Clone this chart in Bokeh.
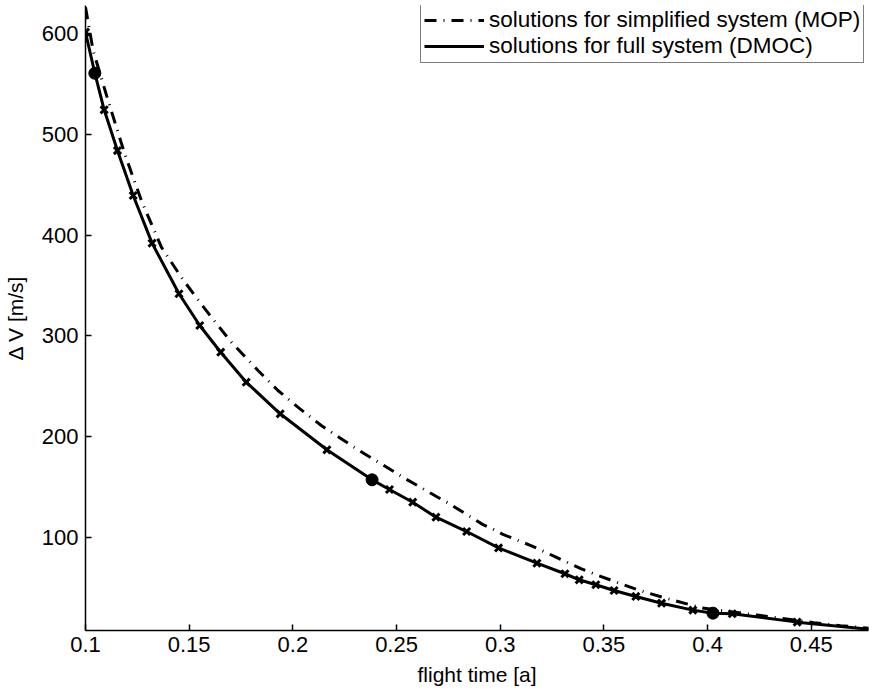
from bokeh.plotting import figure
from bokeh.models import FixedTicker, Range1d, Legend, LegendItem
from bokeh.embed import file_html
from bokeh.resources import INLINE

# DMOC solution points (x markers)
dmoc_time = [0.1000, 0.1090, 0.1154, 0.1230, 0.1321, 0.1451, 0.1551, 0.1652, 0.1775,
             0.1939, 0.2164, 0.2466, 0.2578, 0.2690, 0.2838, 0.2992, 0.3177, 0.3312,
             0.3381, 0.3461, 0.3549, 0.3654, 0.3778, 0.3929, 0.4119, 0.4432]
dmoc_dv = [601.3, 524.3, 483.9, 439.3, 392.0, 341.8, 310.3, 283.8, 254.1,
           222.7, 187.0, 147.6, 135.0, 120.1, 105.9, 89.6, 74.5, 64.0,
           58.0, 53.1, 47.4, 41.5, 34.8, 27.9, 24.3, 16.0]

# highlighted solutions (filled circles)
sel_time = [0.1045, 0.2382, 0.4026]
sel_dv = [560.6, 157.2, 24.9]

# DMOC curve end point
dmoc_end_time = [0.478]
dmoc_end_dv = [9.0]

# MOP curve (simplified system)
mop_time = [0.1000, 0.1037, 0.1109, 0.1189, 0.1270, 0.1366, 0.1462, 0.1527, 0.1607,
            0.1703, 0.1832, 0.1928, 0.2024, 0.2137, 0.2233, 0.2345, 0.2426, 0.2530,
            0.2642, 0.2755, 0.2915, 0.2979, 0.3013, 0.3148, 0.3269, 0.3389, 0.3477,
            0.3582, 0.3694, 0.3838, 0.3975, 0.4240, 0.4512, 0.4641, 0.4780]
mop_dv = [626.0, 583.0, 533.5, 480.7, 434.0, 388.0, 358.2, 340.0, 318.6,
          293.8, 265.7, 245.8, 229.3, 211.1, 197.9, 183.0, 173.1, 159.8,
          146.6, 133.4, 113.0, 107.0, 103.0, 92.0, 80.5, 69.0, 62.0,
          54.0, 46.0, 37.5, 30.0, 23.0, 15.5, 12.5, 10.0]

x_ticks = [0.1, 0.15, 0.2, 0.25, 0.3, 0.35, 0.4, 0.45]
x_tick_labels = ["0.1", "0.15", "0.2", "0.25", "0.3", "0.35", "0.4", "0.45"]
y_ticks = [100, 200, 300, 400, 500, 600]

mop_label = "solutions for simplified system (MOP)"
dmoc_label = "solutions for full system (DMOC)"

FONT = "Liberation Sans"

p = figure(width=869, height=689, output_backend="svg", toolbar_location=None,
           x_range=Range1d(0.1, 0.4776), y_range=Range1d(7.7, 627.8),
           min_border_left=84, min_border_right=1, min_border_top=5,
           min_border_bottom=59, x_axis_label="flight time [a]",
           y_axis_label="\u0394 V [m/s]")
p.outline_line_color = None
p.xgrid.visible = False
p.ygrid.visible = False
p.background_fill_color = "white"
p.border_fill_color = "white"

# combine curve data
curve = sorted(list(zip(dmoc_time, dmoc_dv)) + list(zip(sel_time, sel_dv)) +
               list(zip(dmoc_end_time, dmoc_end_dv)))
curve_t = [c[0] for c in curve]
curve_v = [c[1] for c in curve]

r_mop = p.line(mop_time, mop_dv, line_color="black", line_width=3,
               line_dash="12 7 1 7")
r_dmoc = p.line(curve_t, curve_v, line_color="black", line_width=3)
p.scatter(dmoc_time, dmoc_dv, marker="x", size=10, line_color="black", line_width=3)
p.scatter(sel_time, sel_dv, marker="circle", size=12, fill_color="black", line_color="black")

p.xaxis.ticker = FixedTicker(ticks=x_ticks)
p.xaxis.major_label_overrides = {t: l for t, l in zip(x_ticks, x_tick_labels)}
p.yaxis.ticker = FixedTicker(ticks=y_ticks)

for ax in (p.xaxis, p.yaxis):
    ax.axis_line_color = "black"
    ax.axis_line_width = 1.5
    ax.major_tick_line_color = "black"
    ax.major_tick_line_width = 1.5
    ax.major_tick_in = 6
    ax.major_tick_out = 0
    ax.minor_tick_line_color = None
    ax.major_label_text_font = FONT
    ax.major_label_text_font_size = "22px"
    ax.major_label_text_color = "black"
    ax.axis_label_text_font = FONT
    ax.axis_label_text_font_size = "21px"
    ax.axis_label_text_font_style = "normal"
    ax.axis_label_text_color = "black"

p.xaxis.major_label_standoff = 6
p.xaxis.axis_label_standoff = 8
p.yaxis.major_label_standoff = 7
p.yaxis.axis_label_standoff = 12

legend = Legend(items=[LegendItem(label=mop_label, renderers=[r_mop]),
                       LegendItem(label=dmoc_label, renderers=[r_dmoc])],
                location=(335, 567))
legend.margin = 0
legend.padding = 3
legend.spacing = -4
legend.glyph_width = 60
legend.glyph_height = 20
legend.label_height = 20
legend.label_standoff = 5
legend.label_text_font = FONT
legend.label_text_font_size = "22.5px"
legend.label_text_color = "black"
legend.border_line_color = "black"
legend.border_line_width = 1.5
legend.background_fill_color = "white"
legend.background_fill_alpha = 1
p.add_layout(legend)

open("out.html", "w").write(file_html(p, INLINE))
